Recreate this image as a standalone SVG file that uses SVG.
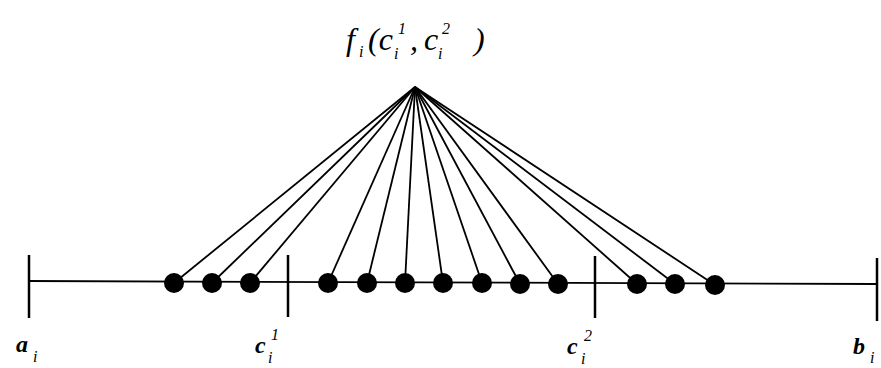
<svg xmlns="http://www.w3.org/2000/svg" width="881" height="368" viewBox="0 0 881 368">
<style>
.ln{stroke:#000;stroke-width:1.8;fill:none}
.tk{stroke:#000;stroke-width:2.5;fill:none}
.dot{fill:#000}
.lbl{font-family:"Liberation Serif",serif;font-style:italic;font-weight:bold;font-size:24px;fill:#000}
.sm{font-family:"Liberation Serif",serif;font-style:italic;font-size:16px;fill:#000}
.ttl{font-family:"Liberation Serif",serif;font-style:italic;font-size:32px;fill:#000}
</style>
<rect width="881" height="368" fill="#fff"/>
<g id="axis">
<line class="ln" x1="28" y1="281" x2="878" y2="284"/>
<line class="tk" x1="29" y1="255" x2="29" y2="318"/>
<line class="tk" x1="877" y1="258" x2="877" y2="321"/>
<line class="tk" x1="288" y1="255" x2="288" y2="317"/>
<line class="tk" x1="595" y1="256" x2="595" y2="318"/>
</g>
<g id="connectors">
<line class="ln" x1="415" y1="87" x2="174" y2="283"/>
<line class="ln" x1="415" y1="87" x2="212" y2="283"/>
<line class="ln" x1="415" y1="87" x2="250" y2="283"/>
<line class="ln" x1="415" y1="87" x2="328" y2="283"/>
<line class="ln" x1="415" y1="87" x2="367" y2="283"/>
<line class="ln" x1="415" y1="87" x2="405" y2="283"/>
<line class="ln" x1="415" y1="87" x2="443" y2="283"/>
<line class="ln" x1="415" y1="87" x2="482" y2="283"/>
<line class="ln" x1="415" y1="87" x2="520" y2="284"/>
<line class="ln" x1="415" y1="87" x2="558" y2="284"/>
<line class="ln" x1="415" y1="87" x2="637" y2="284"/>
<line class="ln" x1="415" y1="87" x2="675" y2="284"/>
<line class="ln" x1="415" y1="87" x2="715" y2="285"/>
</g>
<g id="points">
<circle class="dot" cx="174" cy="283" r="10"/>
<circle class="dot" cx="212" cy="283" r="10"/>
<circle class="dot" cx="250" cy="283" r="10"/>
<circle class="dot" cx="328" cy="283" r="10"/>
<circle class="dot" cx="367" cy="283" r="10"/>
<circle class="dot" cx="405" cy="283" r="10"/>
<circle class="dot" cx="443" cy="283" r="10"/>
<circle class="dot" cx="482" cy="283" r="10"/>
<circle class="dot" cx="520" cy="284" r="10"/>
<circle class="dot" cx="558" cy="284" r="10"/>
<circle class="dot" cx="637" cy="284" r="10"/>
<circle class="dot" cx="675" cy="284" r="10"/>
<circle class="dot" cx="715" cy="285" r="10"/>
</g>
<g id="title">
<text class="ttl" x="346" y="50">f</text>
<text class="sm" x="359" y="57">i</text>
<text class="ttl" x="368" y="50">(c</text>
<text class="sm" x="398" y="34">1</text>
<text class="sm" x="394" y="59">i</text>
<text class="ttl" x="410" y="50">,</text>
<text class="ttl" x="424" y="50">c</text>
<text class="sm" x="442" y="34">2</text>
<text class="sm" x="438" y="59">i</text>
<text class="ttl" x="474" y="50">)</text>
</g>
<g id="label-a">
<text class="lbl" x="16" y="352">a</text>
<text class="sm" x="33" y="362">i</text>
</g>
<g id="label-c1">
<text class="lbl" x="255" y="353">c</text>
<text class="sm" x="271" y="340">1</text>
<text class="sm" x="268" y="363">i</text>
</g>
<g id="label-c2">
<text class="lbl" x="567" y="354">c</text>
<text class="sm" x="584" y="341">2</text>
<text class="sm" x="581" y="364">i</text>
</g>
<g id="label-b">
<text class="lbl" x="853" y="354">b</text>
<text class="sm" x="870" y="363">i</text>
</g>
</svg>
